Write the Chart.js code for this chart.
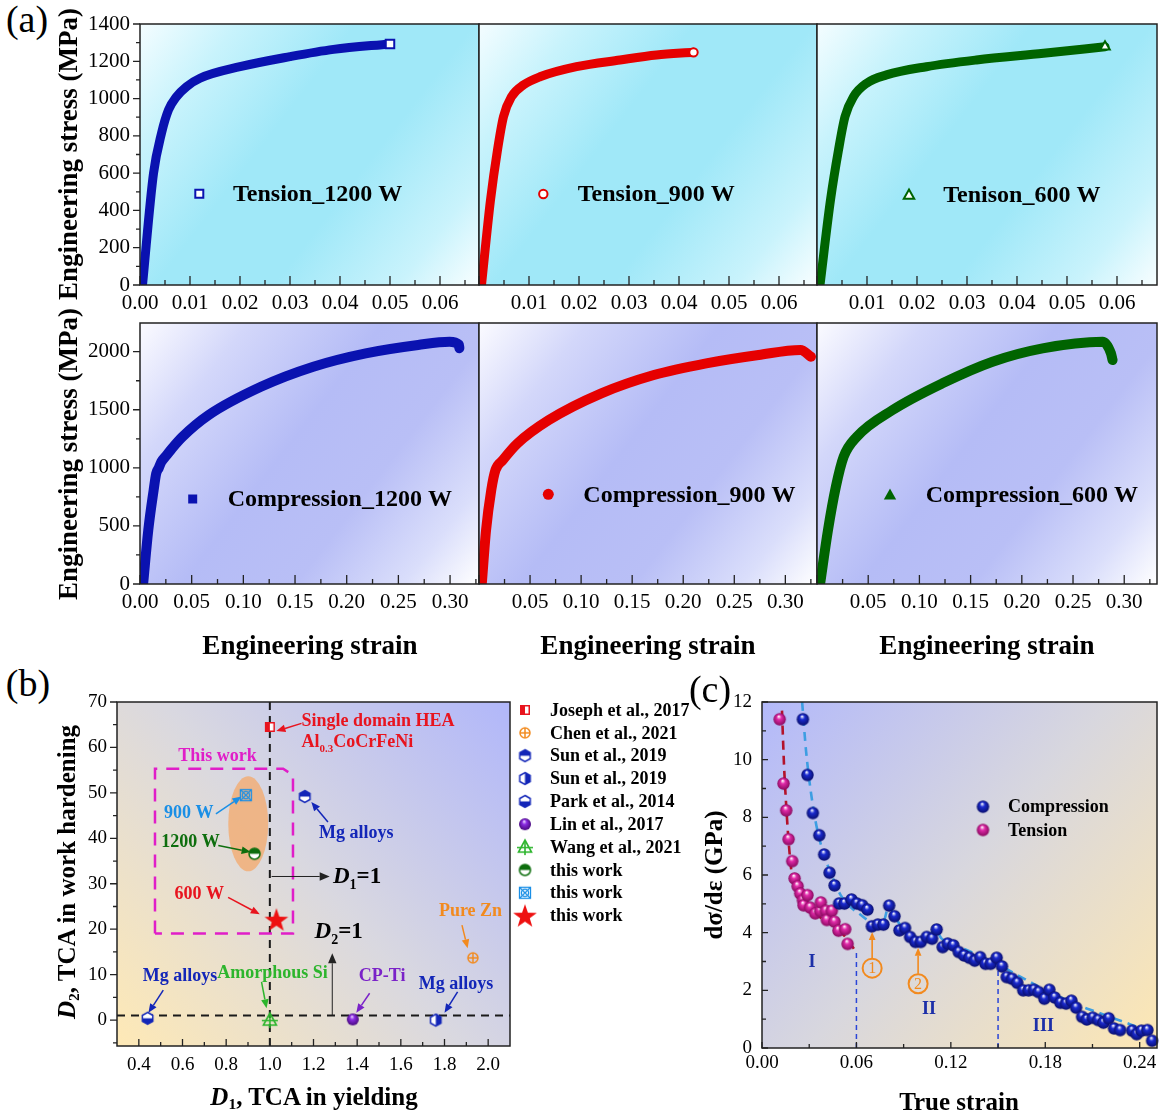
<!DOCTYPE html>
<html>
<head>
<meta charset="utf-8">
<title>Stress–strain and work-hardening behaviour</title>
<script src="https://cdn.jsdelivr.net/npm/chart.js@4.4.1/dist/chart.umd.min.js"></script>
<style>
  html, body { margin: 0; padding: 0; background: #fff; }
  body { position: relative; width: 1164px; height: 1116px; overflow: hidden; }
  canvas { position: absolute; }
  .txt { position: absolute; z-index: 5; font-family: "Liberation Serif", "Times New Roman", serif; color: #000;
         white-space: nowrap; line-height: 1; transform: translate(-50%, -50%); }
  .rot { transform: translate(-50%, -50%) rotate(-90deg); }
  .panel { font-size: 38px; }
  .ax { font-size: 25px; font-weight: bold; }
  .axa { font-size: 27px; font-weight: bold; }
  sub { font-size: 0.62em; vertical-align: -0.3em; line-height: 0; }
</style>
</head>
<body>
<div class="txt panel" style="left:27px;top:19px">(a)</div>
<div class="txt axa rot" style="left:68px;top:154px">Engineering stress (MPa)</div>
<div class="txt axa rot" style="left:68px;top:454px">Engineering stress (MPa)</div>
<div class="txt axa" style="left:310px;top:645px">Engineering strain</div>
<div class="txt axa" style="left:648px;top:645px">Engineering strain</div>
<div class="txt axa" style="left:987px;top:645px">Engineering strain</div>
<div class="txt panel" style="left:28px;top:683px">(b)</div>
<div class="txt ax rot" style="left:66px;top:872px"><i>D</i><sub>2</sub>, TCA in work hardening</div>
<div class="txt ax" style="left:314px;top:1096px"><i>D</i><sub>1</sub>, TCA in yielding</div>
<div class="txt panel" style="left:710px;top:689px">(c)</div>
<div class="txt ax rot" style="left:713px;top:875px">dσ/dε (GPa)</div>
<div class="txt ax" style="left:959px;top:1101px">True strain</div>

<script>
// ---------------- (a) engineering stress–strain curves ----------------
const tension1200Strain = [0.0005, 0.0027, 0.0043, 0.0057, 0.0073, 0.0093, 0.0120, 0.0200, 0.0300, 0.0387, 0.0500];
const tension1200Stress = [0, 599, 814, 939, 1010, 1064, 1109, 1171, 1225, 1264, 1293];
const tension900Strain  = [0.0005, 0.0023, 0.0037, 0.0049, 0.0065, 0.0089, 0.0122, 0.0195, 0.0282, 0.0355, 0.0429];
const tension900Stress  = [0, 456, 724, 903, 1010, 1073, 1117, 1171, 1207, 1234, 1248];
const tension600Strain  = [0.0006, 0.0027, 0.0043, 0.0056, 0.0073, 0.0099, 0.0139, 0.0219, 0.0319, 0.0453, 0.0576];
const tension600Stress  = [0, 456, 724, 903, 1010, 1082, 1127, 1171, 1207, 1243, 1278];
const comp1200Strain = [0.0030, 0.0080, 0.0132, 0.0157, 0.0182, 0.0207, 0.0258, 0.0309, 0.0410, 0.0663, 0.1170,
  0.1677, 0.2184, 0.2691, 0.2995, 0.3086, 0.3090];
const comp1200Stress = [0, 463, 808, 952, 1000, 1052, 1109, 1167, 1267, 1454, 1698, 1871, 1986, 2058, 2086, 2060, 2030];
const comp900Strain  = [0.0027, 0.0069, 0.0120, 0.0161, 0.0233, 0.0377, 0.0684, 0.1198, 0.1712, 0.2225, 0.2738, 0.3149, 0.3251];
const comp900Stress  = [0, 463, 808, 980, 1066, 1210, 1411, 1641, 1799, 1900, 1972, 2015, 1957];
const comp600Strain  = [0.0030, 0.0107, 0.0184, 0.0260, 0.0388, 0.0736, 0.1225, 0.1714, 0.2203, 0.2789, 0.2870, 0.2886];
const comp600Stress  = [0, 463, 836, 1095, 1267, 1497, 1728, 1914, 2029, 2086, 1986, 1928];

const tensionStrainTicks = [0, 0.01, 0.02, 0.03, 0.04, 0.05, 0.06];
const tensionStressTicks = [0, 200, 400, 600, 800, 1000, 1200, 1400];
const compStrainTicks = [0, 0.05, 0.10, 0.15, 0.20, 0.25, 0.30];
const compStressTicks = [0, 500, 1000, 1500, 2000];

// ---------------- (b) triaxial coupling (TCA) map ----------------
const tcaLabels = ['Joseph et al., 2017', 'Chen et al., 2021', 'Sun et al., 2019', 'Sun et al., 2019',
                   'Park et al., 2014', 'Lin et al., 2017', 'Wang et al., 2021', 'this work', 'this work', 'this work'];
const tcaD1 = [1.00, 1.93, 1.16, 1.76, 0.44, 1.38, 1.00, 0.93, 0.89, 1.03];
const tcaD2 = [64.5, 13.7, 49.2, 0.0, 0.4, 0.15, 0.0, 36.6, 49.5, 22.1];
const d1Unity = 1;
const d2Unity = 1;
const d1Ticks = [0.4, 0.6, 0.8, 1.0, 1.2, 1.4, 1.6, 1.8, 2.0];
const d2Ticks = [0, 10, 20, 30, 40, 50, 60, 70];

// ---------------- (c) work-hardening rate ----------------
const compTrueStrain = [0.0260, 0.0289, 0.0323, 0.0364, 0.0395, 0.0429, 0.0461, 0.0490, 0.0524, 0.0569,
  0.0603, 0.0637, 0.0670, 0.0698, 0.0736, 0.0772, 0.0808, 0.0842, 0.0873, 0.0909,
  0.0941, 0.0975, 0.1009, 0.1047, 0.1081, 0.1110, 0.1148, 0.1180, 0.1216, 0.1250,
  0.1284, 0.1318, 0.1352, 0.1386, 0.1420, 0.1453, 0.1491, 0.1525, 0.1555, 0.1589,
  0.1622, 0.1660, 0.1694, 0.1728, 0.1758, 0.1794, 0.1826, 0.1860, 0.1896, 0.1932,
  0.1966, 0.1996, 0.2034, 0.2064, 0.2102, 0.2136, 0.2170, 0.2203, 0.2237, 0.2276,
  0.2352, 0.2381, 0.2411, 0.2449, 0.2479];
const compRate = [11.40, 9.47, 8.15, 7.38, 6.71, 6.08, 5.64, 5.01, 5.01, 5.15,
  5.01, 4.95, 4.80, 4.22, 4.28, 4.28, 4.94, 4.57, 4.08, 4.16,
  3.85, 3.68, 3.68, 3.85, 3.79, 4.11, 3.50, 3.62, 3.56, 3.33,
  3.21, 3.13, 3.03, 3.15, 2.92, 2.92, 3.13, 2.83, 2.46, 2.40,
  2.26, 2.00, 2.00, 2.02, 1.94, 1.71, 2.02, 1.75, 1.57, 1.54,
  1.64, 1.40, 1.08, 0.99, 1.05, 0.97, 0.88, 1.03, 0.68, 0.62,
  0.60, 0.48, 0.60, 0.62, 0.25];
const tensTrueStrain = [0.0112, 0.0137, 0.0154, 0.0169, 0.0192, 0.0207, 0.0226, 0.0243, 0.0260, 0.0264, 0.0289,
  0.0306, 0.0338, 0.0370, 0.0374, 0.0406, 0.0412, 0.0444, 0.0461, 0.0486, 0.0529, 0.0544];
const tensRate = [11.40, 9.17, 8.24, 7.24, 6.48, 5.88, 5.61, 5.36, 5.13, 4.95, 5.30,
  4.87, 4.67, 4.75, 5.05, 4.76, 4.44, 4.76, 4.38, 4.07, 4.12, 3.61];
const compFitStrain = [0.0255, 0.0280, 0.0310, 0.0350, 0.0400, 0.0450, 0.0500, 0.0560, 0.0620, 0.0680, 0.0720,
  0.0770, 0.0805, 0.0850, 0.0900, 0.0950, 0.1000, 0.1050, 0.1105, 0.1140, 0.1200, 0.1300, 0.1400, 0.1500,
  0.1600, 0.1700, 0.1800, 0.1900, 0.2000, 0.2100, 0.2200, 0.2300, 0.2400, 0.2460];
const compFitRate = [12.0, 10.3, 8.9, 7.6, 6.6, 5.9, 5.3, 4.9, 4.65, 4.4, 4.28,
  4.35, 4.9, 4.5, 4.1, 3.8, 3.65, 3.8, 4.1, 3.8, 3.65, 3.4, 3.15, 2.9,
  2.6, 2.3, 2.0, 1.75, 1.5, 1.3, 1.1, 0.9, 0.7, 0.55];
const tensFitStrain = [0.0127, 0.0140, 0.0155, 0.0170, 0.0190, 0.0210, 0.0240, 0.0280, 0.0330, 0.0380, 0.0430, 0.0480, 0.0530, 0.0596];
const tensFitRate   = [11.7, 9.8, 8.3, 7.1, 6.0, 5.55, 5.2, 4.95, 4.68, 4.5, 4.33, 4.12, 3.85, 3.35];
const stageBoundStrain = [0.06, 0.15];
const stageBoundTop = [3.33, 2.91];
const stageNames = ['I', 'II', 'III'];
const trueStrainTicks = [0, 0.06, 0.12, 0.18, 0.24];
const hardeningTicks = [0, 2, 4, 6, 8, 10, 12];

// ---------------- shared helpers ----------------
const SERIF = '"Liberation Serif", "Times New Roman", serif';
Chart.defaults.font.family = SERIF;
Chart.defaults.color = '#000';

const pts = (xs, ys) => xs.map((x, i) => ({x, y: ys[i]}));

// linear axis whose box size is fixed, so the plot area lands exactly where wanted
function axis(o) {
  return {
    type: 'linear', min: o.min, max: o.max,
    afterFit: s => { if (s.isHorizontal()) s.height = o.boxSize; else s.width = o.boxSize; },
    afterBuildTicks: s => { s.ticks = o.ticks.map(v => ({value: v})); },
    grid: {display: false, drawTicks: false},
    border: {display: false},
    ticks: {
      display: o.labels !== false,
      padding: o.pad, maxRotation: 0, minRotation: 0, autoSkip: false,
      font: {family: SERIF, size: o.size}, color: '#000',
      callback: v => (o.hideZero && Math.abs(v) < 1e-9) ? '' : Number(v).toFixed(o.dec)
    }
  };
}

function drawTickMarks(chart, t, id) {
  const s = chart.scales[id], a = chart.chartArea, ctx = chart.ctx;
  const majors = s.ticks.map(k => k.value);
  const step = majors[1] - majors[0];
  const minors = [];
  for (let k = -1; k < majors.length; k++) {
    const v = majors[0] + (k + 0.5) * step;
    if (v > s.min + step * 0.02 && v < s.max - step * 0.02) minors.push(v);
  }
  ctx.save();
  ctx.strokeStyle = '#222'; ctx.lineWidth = 1.3; ctx.beginPath();
  const mark = (v, len) => {
    const p = s.getPixelForValue(v);
    if (id === 'x') {
      const y0 = a.bottom, y1 = t.dir === 'in' ? y0 - len : y0 + len;
      ctx.moveTo(p, y0); ctx.lineTo(p, y1);
    } else {
      const x0 = a.left, x1 = t.dir === 'in' ? x0 + len : x0 - len;
      ctx.moveTo(x0, p); ctx.lineTo(x1, p);
    }
  };
  majors.forEach(v => mark(v, t.major));
  minors.forEach(v => mark(v, t.minor));
  ctx.stroke(); ctx.restore();
}

function decor(cfg) {
  return {
    id: 'decor',
    beforeDraw(chart) {
      const {ctx, chartArea: a} = chart;
      const g = cfg.bgDir === 'bl'
        ? ctx.createLinearGradient(a.left, a.bottom, a.right, a.top)
        : ctx.createLinearGradient(a.left, a.top, a.right, a.bottom);
      cfg.bgStops.forEach(s => g.addColorStop(s[0], s[1]));
      ctx.save(); ctx.fillStyle = g; ctx.fillRect(a.left, a.top, a.width, a.height); ctx.restore();
    },
    beforeDatasetsDraw(chart) { if (cfg.under) cfg.under(chart, cfg); },
    afterDraw(chart) {
      const {ctx, chartArea: a} = chart;
      drawTickMarks(chart, cfg.tickX, 'x');
      if (cfg.tickY) drawTickMarks(chart, cfg.tickY, 'y');
      ctx.save(); ctx.strokeStyle = '#222'; ctx.lineWidth = 1.5;
      ctx.strokeRect(a.left, a.top, a.width, a.height); ctx.restore();
      if (cfg.over) cfg.over(chart, cfg);
    }
  };
}

function makePanel(area, margin, datasets, xAxis, yAxis, cfg) {
  const box = {x: area.l - margin.l, y: area.t - margin.t,
               w: area.r - area.l + margin.l + margin.r, h: area.b - area.t + margin.t + margin.b};
  const cv = document.createElement('canvas');
  cv.width = box.w; cv.height = box.h;
  cv.style.left = box.x + 'px'; cv.style.top = box.y + 'px';
  cv.style.width = box.w + 'px'; cv.style.height = box.h + 'px';
  document.body.appendChild(cv);
  cfg.box = box;
  xAxis.boxSize = margin.b; yAxis.boxSize = margin.l;
  return new Chart(cv, {
    type: 'scatter',
    data: {datasets},
    options: {
      responsive: false, animation: false, events: [],
      layout: {padding: {left: 0, right: margin.r, top: margin.t, bottom: 0}},
      plugins: {legend: {display: false}, tooltip: {enabled: false}},
      scales: {x: axis(xAxis), y: axis(yAxis)}
    },
    plugins: [decor(cfg)]
  });
}

// small canvases used as point symbols
function symbol(size, draw) {
  const c = document.createElement('canvas');
  c.width = c.height = size;
  draw(c.getContext('2d'), size / 2);
  return c;
}
function ball(r, light, base, dark) {
  return symbol(Math.ceil(r * 2 + 2), (g, c) => {
    const gr = g.createRadialGradient(c - r * 0.15, c - r * 0.5, r * 0.05, c, c, r);
    gr.addColorStop(0, light); gr.addColorStop(0.35, base); gr.addColorStop(1, dark);
    g.fillStyle = gr; g.beginPath(); g.arc(c, c, r, 0, Math.PI * 2); g.fill();
  });
}
function hexPath(g, c, r) {
  g.beginPath();
  for (let k = 0; k < 6; k++) {
    const an = -Math.PI / 2 + k * Math.PI / 3;
    const px = c + r * Math.cos(an), py = c + r * Math.sin(an);
    k ? g.lineTo(px, py) : g.moveTo(px, py);
  }
  g.closePath();
}
function halfHex(part, color) {
  return symbol(15, (g, c) => {
    const r = 6;
    hexPath(g, c, r); g.fillStyle = '#fff'; g.fill();
    g.save(); hexPath(g, c, r); g.clip();
    g.fillStyle = color;
    if (part === 'top') g.fillRect(0, 0, 15, c);
    if (part === 'bottom') g.fillRect(0, c, 15, c);
    if (part === 'right') g.fillRect(c, 0, c, 15);
    g.restore();
    hexPath(g, c, r); g.strokeStyle = color; g.lineWidth = 1.5; g.stroke();
  });
}

const C_RED = '#e8141e', C_ORANGE = '#f28a1e', C_BLUE = '#1326b8', C_SKY = '#1a8fe6',
      C_GREEN = '#0e6e0e', C_LIME = '#2db52d', C_PURPLE = '#7a22c8', C_MAGENTA = '#e01ec8';

const tcaSymbols = [
  symbol(14, (g) => {               // half-filled square
    g.fillStyle = '#fff'; g.fillRect(2, 2, 10, 10);
    g.fillStyle = C_RED; g.fillRect(2, 2, 5, 10);
    g.strokeStyle = C_RED; g.lineWidth = 1.5; g.strokeRect(2.75, 2.75, 8.5, 8.5);
  }),
  symbol(14, (g, c) => {            // circled plus
    g.strokeStyle = C_ORANGE; g.lineWidth = 1.5;
    g.beginPath(); g.arc(c, c, 5, 0, Math.PI * 2); g.stroke();
    g.beginPath(); g.moveTo(c - 5, c); g.lineTo(c + 5, c); g.moveTo(c, c - 5); g.lineTo(c, c + 5); g.stroke();
  }),
  halfHex('top', C_BLUE),
  halfHex('right', C_BLUE),
  halfHex('bottom', C_BLUE),
  ball(6, '#e8d0ff', '#8a2be2', '#4a0a80'),
  symbol(20, (g) => {               // triangle with cross
    g.strokeStyle = C_LIME; g.lineWidth = 1.6;
    g.beginPath(); g.moveTo(10, 3); g.lineTo(16.5, 15); g.lineTo(3.5, 15); g.closePath(); g.stroke();
    g.beginPath(); g.moveTo(10, 3); g.lineTo(10, 18); g.moveTo(2, 10.5); g.lineTo(18, 10.5); g.stroke();
  }),
  symbol(15, (g, c) => {            // half-filled circle
    g.fillStyle = '#fff'; g.beginPath(); g.arc(c, c, 5.5, 0, Math.PI * 2); g.fill();
    g.fillStyle = C_GREEN; g.beginPath(); g.arc(c, c, 5.5, Math.PI, Math.PI * 2); g.closePath(); g.fill();
    g.strokeStyle = C_GREEN; g.lineWidth = 1.5; g.beginPath(); g.arc(c, c, 5.5, 0, Math.PI * 2); g.stroke();
  }),
  symbol(16, (g, c) => {            // crossed box with circle
    g.strokeStyle = C_SKY; g.lineWidth = 1.3;
    g.strokeRect(2.5, 2.5, 11, 11);
    g.beginPath(); g.moveTo(2.5, 2.5); g.lineTo(13.5, 13.5); g.moveTo(13.5, 2.5); g.lineTo(2.5, 13.5); g.stroke();
    g.beginPath(); g.arc(c, c, 3.6, 0, Math.PI * 2); g.stroke();
  }),
  symbol(26, (g, c) => {            // star
    g.fillStyle = '#ee1111'; g.beginPath();
    for (let k = 0; k < 10; k++) {
      const r = k % 2 ? 5 : 12.5, an = -Math.PI / 2 + k * Math.PI / 5;
      const px = c + r * Math.cos(an), py = c + 1 + r * Math.sin(an);
      k ? g.lineTo(px, py) : g.moveTo(px, py);
    }
    g.closePath(); g.fill();
  })
];
const blueBall = ball(6.2, '#ffffff', '#1a2ad0', '#0a0f70');
const pinkBall = ball(6.2, '#ffffff', '#e02aa8', '#8a0a60');

function arrow(ctx, x0, y0, x1, y1, color, lw = 1.5, head = 9) {
  const an = Math.atan2(y1 - y0, x1 - x0);
  const bx = x1 - head * Math.cos(an), by = y1 - head * Math.sin(an);
  const w = head * 0.42;
  ctx.save();
  ctx.strokeStyle = color; ctx.fillStyle = color; ctx.lineWidth = lw;
  ctx.beginPath(); ctx.moveTo(x0, y0); ctx.lineTo(bx, by); ctx.stroke();
  ctx.beginPath(); ctx.moveTo(x1, y1);
  ctx.lineTo(bx + w * Math.sin(an), by - w * Math.cos(an));
  ctx.lineTo(bx - w * Math.sin(an), by + w * Math.cos(an));
  ctx.closePath(); ctx.fill();
  ctx.restore();
}

// text made of plain / italic / subscript pieces, vertically centred on y
function richText(ctx, segs, x, y, size, color, align) {
  const fontOf = s => `${s.it ? 'italic ' : ''}bold ${s.sub ? Math.round(size * 0.62) : size}px ${SERIF}`;
  let total = 0;
  segs.forEach(s => { ctx.font = fontOf(s); total += ctx.measureText(s.t).width; });
  let cx = align === 'center' ? x - total / 2 : x;
  ctx.save(); ctx.fillStyle = color; ctx.textBaseline = 'middle'; ctx.textAlign = 'left';
  segs.forEach(s => {
    ctx.font = fontOf(s);
    ctx.fillText(s.t, cx, y + (s.sub ? size * 0.38 : 0));
    cx += ctx.measureText(s.t).width;
  });
  ctx.restore();
}

// ---------------- (a) six stress–strain panels ----------------
const aCols = [[140, 479], [479, 817], [817, 1157]];
const aRows = [[24, 285], [323, 584]];
const cyanStops = [[0, '#f4fdff'], [0.18, '#c8f3fc'], [0.4, '#a0e8f8'], [0.62, '#a0e8f8'], [0.85, '#c9f3fc'], [1, '#f8feff']];
const lilacStops = [[0, '#fbfbff'], [0.2, '#d3d7fa'], [0.45, '#b5bcf6'], [0.66, '#b9bff6'], [0.86, '#dadefb'], [1, '#ffffff']];

const aPanels = [
  {row: 0, col: 0, xs: tension1200Strain, ys: tension1200Stress, color: '#0a12b0', sym: 'rect', open: true,
   text: 'Tension_1200 W', mx: 199.3, my: 193.7, tx: 233},
  {row: 0, col: 1, xs: tension900Strain, ys: tension900Stress, color: '#e60000', sym: 'circle', open: true,
   text: 'Tension_900 W', mx: 543.3, my: 194, tx: 577.7},
  {row: 0, col: 2, xs: tension600Strain, ys: tension600Stress, color: '#006400', sym: 'triangle', open: true,
   text: 'Tenison_600 W', mx: 909, my: 195, tx: 943.3},
  {row: 1, col: 0, xs: comp1200Strain, ys: comp1200Stress, color: '#0a12b0', sym: 'rect', open: false,
   text: 'Compression_1200 W', mx: 192.7, my: 499, tx: 227.7},
  {row: 1, col: 1, xs: comp900Strain, ys: comp900Stress, color: '#e60000', sym: 'circle', open: false,
   text: 'Compression_900 W', mx: 548.3, my: 494.3, tx: 583.3},
  {row: 1, col: 2, xs: comp600Strain, ys: comp600Stress, color: '#006400', sym: 'triangle', open: false,
   text: 'Compression_600 W', mx: 890, my: 495, tx: 925.7}
];
const strainMax = [[0.0678, 0.0676, 0.068], [0.328, 0.331, 0.332]];

function legendSymbol(ctx, p, x, y) {
  ctx.save();
  ctx.strokeStyle = p.color; ctx.fillStyle = p.open ? '#fff' : p.color; ctx.lineWidth = 2;
  ctx.beginPath();
  if (p.sym === 'rect') { const h = p.open ? 4 : 4.5; ctx.rect(x - h, y - h, 2 * h, 2 * h); }
  else if (p.sym === 'circle') ctx.arc(x, y, p.open ? 4.2 : 5.5, 0, Math.PI * 2);
  else { const r = p.open ? 5.5 : 6.5; ctx.moveTo(x, y - r); ctx.lineTo(x + r * 0.95, y + r * 0.7); ctx.lineTo(x - r * 0.95, y + r * 0.7); ctx.closePath(); }
  ctx.fill(); if (p.open) ctx.stroke();
  ctx.restore();
}

aPanels.forEach(p => {
  const [t, b] = aRows[p.row], [l, r] = aCols[p.col];
  const top = p.row === 0;
  const datasets = [
    {data: pts(p.xs, p.ys), showLine: true, borderColor: p.color, borderWidth: top ? 9 : 10, pointRadius: 0,
     cubicInterpolationMode: 'monotone', borderCapStyle: 'round', borderJoinStyle: 'round', clip: 0, order: 2}
  ];
  if (top) {
    const n = p.xs.length - 1;
    datasets.push({data: [{x: p.xs[n], y: p.ys[n]}], pointStyle: p.sym,
      pointRadius: p.sym === 'rect' ? 6 : (p.sym === 'circle' ? 4.2 : 5.5),
      pointBackgroundColor: '#fff', pointBorderColor: p.color, pointBorderWidth: 2, clip: false, order: 0});
  }
  const cfg = {
    bgDir: 'tl', bgStops: top ? cyanStops : lilacStops,
    tickX: {dir: 'in', major: 9, minor: 5},
    tickY: p.col === 0 ? {dir: 'out', major: 7, minor: 4} : null,
    over(chart, c) {
      const ctx = chart.ctx, ox = c.box.x, oy = c.box.y;
      legendSymbol(ctx, p, p.mx - ox, p.my - oy);
      ctx.save(); ctx.fillStyle = '#000'; ctx.font = `bold 24px ${SERIF}`;
      ctx.textBaseline = 'middle'; ctx.textAlign = 'left';
      ctx.fillText(p.text, p.tx - ox, p.my - oy + 1); ctx.restore();
    }
  };
  makePanel({l, r, t, b}, {l: p.col === 0 ? 80 : 30, r: 30, t: 30, b: 40}, datasets,
    {min: 0, max: strainMax[p.row][p.col], ticks: top ? tensionStrainTicks : compStrainTicks,
     dec: 2, pad: 6, size: 21, hideZero: p.col !== 0},
    {min: 0, max: top ? 1400 : 2247, ticks: top ? tensionStressTicks : compStressTicks,
     dec: 0, pad: 10, size: 21, labels: p.col === 0},
    cfg);
});

// ---------------- (b) TCA map ----------------
const thisWorkRegion = {d1: [0.474, 1.106], d2: [19.05, 55.3], cutD1: 1.061, cutD2: 53.9};
const ellipseRegion = {d1: 0.901, d2: 43.2, rd1: 0.0914, rd2: 10.45};
const tcaNotes = [
  {segs: [{t: 'Single domain HEA'}], x: 1.145, y: 65.8, color: C_RED, align: 'left'},
  {segs: [{t: 'Al'}, {t: '0.3', sub: true}, {t: 'CoCrFeNi'}], x: 1.145, y: 61.2, color: C_RED, align: 'left'},
  {segs: [{t: 'This work'}], x: 0.76, y: 58.1, color: C_MAGENTA, align: 'center'},
  {segs: [{t: '900 W'}], x: 0.629, y: 45.6, color: C_SKY, align: 'center'},
  {segs: [{t: '1200 W'}], x: 0.637, y: 39.2, color: C_GREEN, align: 'center'},
  {segs: [{t: '600 W'}], x: 0.677, y: 27.7, color: C_RED, align: 'center'},
  {segs: [{t: 'Mg alloys'}], x: 1.396, y: 41.0, color: C_BLUE, align: 'center'},
  {segs: [{t: 'Pure Zn'}], x: 1.919, y: 24.0, color: C_ORANGE, align: 'center'},
  {segs: [{t: 'Mg alloys'}], x: 0.589, y: 9.7, color: C_BLUE, align: 'center'},
  {segs: [{t: 'Amorphous Si'}], x: 1.012, y: 10.3, color: C_LIME, align: 'center'},
  {segs: [{t: 'CP-Ti'}], x: 1.514, y: 9.7, color: C_PURPLE, align: 'center'},
  {segs: [{t: 'Mg alloys'}], x: 1.853, y: 7.9, color: C_BLUE, align: 'center'},
  {segs: [{t: 'D', it: true}, {t: '1', sub: true}, {t: '=1'}], x: 1.289, y: 31.5, color: '#000', align: 'left', size: 23},
  {segs: [{t: 'D', it: true}, {t: '2', sub: true}, {t: '=1'}], x: 1.205, y: 19.4, color: '#000', align: 'left', size: 23}
];
const tcaArrows = [
  {from: [1.145, 65.3], to: [1.03, 63.6], color: C_RED},
  {from: [0.753, 45.4], to: [0.87, 49.2], color: C_SKY},
  {from: [0.764, 38.4], to: [0.912, 37.0], color: C_GREEN},
  {from: [0.809, 27.0], to: [0.954, 23.3], color: C_RED},
  {from: [1.266, 43.6], to: [1.19, 48.0], color: C_BLUE},
  {from: [1.008, 31.6], to: [1.274, 31.6], color: '#222', lw: 1},
  {from: [1.286, d2Unity], to: [1.286, 14.7], color: '#222', lw: 1},
  {from: [1.88, 20.9], to: [1.906, 15.8], color: C_ORANGE},
  {from: [0.512, 6.6], to: [0.444, 1.6], color: C_BLUE},
  {from: [0.962, 8.4], to: [0.985, 2.6], color: C_LIME},
  {from: [1.457, 5.9], to: [1.396, 1.6], color: C_PURPLE},
  {from: [1.86, 6.2], to: [1.8, 1.6], color: C_BLUE}
];
const B_X = [0.3, 2.1], B_Y = [-5.7, 70];
const twr = thisWorkRegion;

makePanel({l: 117, r: 510, t: 702, b: 1046}, {l: 60, r: 190, t: 30, b: 44}, [
  {data: pts(tcaD1, tcaD2), pointStyle: tcaSymbols, pointRadius: 7, clip: false, order: 0},
  {data: [{x: d1Unity, y: B_Y[0]}, {x: d1Unity, y: B_Y[1]}], showLine: true, pointRadius: 0,
   borderColor: '#1a1a1a', borderWidth: 2, borderDash: [8, 6], order: 3},
  {data: [{x: B_X[0], y: d2Unity}, {x: B_X[1], y: d2Unity}], showLine: true, pointRadius: 0,
   borderColor: '#1a1a1a', borderWidth: 2, borderDash: [8, 6], order: 3},
  {data: [{x: twr.d1[0], y: twr.d2[0]}, {x: twr.d1[0], y: twr.d2[1]}, {x: twr.cutD1, y: twr.d2[1]},
          {x: twr.d1[1], y: twr.cutD2}, {x: twr.d1[1], y: twr.d2[0]}, {x: twr.d1[0], y: twr.d2[0]}],
   showLine: true, pointRadius: 0, borderColor: C_MAGENTA, borderWidth: 2.5, borderDash: [13, 9], order: 2}
],
  {min: B_X[0], max: B_X[1], ticks: d1Ticks, dec: 1, pad: 8, size: 19},
  {min: B_Y[0], max: B_Y[1], ticks: d2Ticks, dec: 0, pad: 10, size: 19},
  {
    bgDir: 'bl', bgStops: [[0, '#fee9b6'], [0.5, '#d9d8e0'], [1, '#b1b7fa']],
    tickX: {dir: 'in', major: 7, minor: 4},
    tickY: {dir: 'out', major: 7, minor: 4},
    under(chart) {
      const {ctx, scales: {x, y}} = chart, e = ellipseRegion;
      const cx = x.getPixelForValue(e.d1), cy = y.getPixelForValue(e.d2);
      const rx = Math.abs(x.getPixelForValue(e.d1 + e.rd1) - cx), ry = Math.abs(y.getPixelForValue(e.d2 + e.rd2) - cy);
      ctx.save(); ctx.fillStyle = 'rgba(244,170,110,0.78)';
      ctx.beginPath(); ctx.ellipse(cx, cy, rx, ry, 0, 0, Math.PI * 2); ctx.fill(); ctx.restore();
    },
    over(chart, c) {
      const {ctx, scales: {x, y}} = chart;
      tcaArrows.forEach(a => arrow(ctx, x.getPixelForValue(a.from[0]), y.getPixelForValue(a.from[1]),
        x.getPixelForValue(a.to[0]), y.getPixelForValue(a.to[1]), a.color, a.lw || 1.5, a.lw ? 10 : 9));
      tcaNotes.forEach(n => richText(ctx, n.segs, x.getPixelForValue(n.x), y.getPixelForValue(n.y),
        n.size || 18, n.color, n.align));
      // legend
      const ox = c.box.x, oy = c.box.y;
      tcaLabels.forEach((lab, i) => {
        const ly = 710 + i * 22.85 - oy, lx = 525 - ox;
        const s = tcaSymbols[i];
        ctx.drawImage(s, lx - s.width / 2, ly - s.height / 2);
        ctx.save(); ctx.fillStyle = '#000'; ctx.font = `bold 18px ${SERIF}`;
        ctx.textBaseline = 'middle'; ctx.textAlign = 'left';
        ctx.fillText(lab, 550 - ox, ly + 1); ctx.restore();
      });
    }
  });

// ---------------- (c) work-hardening rate ----------------
const stageLabelAt = [[0.0317, 2.98], [0.1061, 1.33], [0.1788, 0.75]];
const circledMarks = [{n: '1', x: 0.070, y: 2.77, tip: 4.02}, {n: '2', x: 0.0992, y: 2.23, tip: 3.48}];

const cDatasets = [
  {data: pts(compTrueStrain, compRate), pointStyle: blueBall, pointRadius: 6, clip: false, order: 0},
  {data: pts(tensTrueStrain, tensRate), pointStyle: pinkBall, pointRadius: 6, clip: false, order: 0},
  {data: pts(compFitStrain, compFitRate), showLine: true, pointRadius: 0, borderColor: '#3d9ee2', borderWidth: 2.6,
   borderDash: [9, 6], cubicInterpolationMode: 'monotone', clip: 0, order: 2},
  {data: pts(tensFitStrain, tensFitRate), showLine: true, pointRadius: 0, borderColor: '#b3122a', borderWidth: 2.6,
   borderDash: [9, 6], cubicInterpolationMode: 'monotone', clip: 0, order: 2}
];
stageBoundStrain.forEach((s, i) => cDatasets.push({
  data: [{x: s, y: 0}, {x: s, y: stageBoundTop[i]}], showLine: true, pointRadius: 0,
  borderColor: '#2a45d8', borderWidth: 1.5, borderDash: [5, 4], order: 3}));

makePanel({l: 762, r: 1157, t: 702, b: 1048}, {l: 60, r: 30, t: 30, b: 44}, cDatasets,
  {min: 0, max: 0.251, ticks: trueStrainTicks, dec: 2, pad: 4, size: 19},
  {min: 0, max: 12, ticks: hardeningTicks, dec: 0, pad: 10, size: 19},
  {
    bgDir: 'tl', bgStops: [[0, '#b3b9fa'], [0.5, '#d8d7de'], [1, '#fde7b3']],
    tickX: {dir: 'in', major: 6, minor: 4},
    tickY: {dir: 'in', major: 6, minor: 4},
    over(chart, c) {
      const {ctx, scales: {x, y}} = chart;
      stageNames.forEach((nm, i) => {
        ctx.save(); ctx.fillStyle = '#1c2fa8'; ctx.font = `bold 18px ${SERIF}`;
        ctx.textAlign = 'center'; ctx.textBaseline = 'middle';
        ctx.fillText(nm, x.getPixelForValue(stageLabelAt[i][0]), y.getPixelForValue(stageLabelAt[i][1]));
        ctx.restore();
      });
      circledMarks.forEach(m => {
        const px = x.getPixelForValue(m.x), py = y.getPixelForValue(m.y);
        ctx.save(); ctx.strokeStyle = C_ORANGE; ctx.fillStyle = C_ORANGE; ctx.lineWidth = 2;
        ctx.beginPath(); ctx.arc(px, py, 9.5, 0, Math.PI * 2); ctx.stroke();
        ctx.font = `16px ${SERIF}`; ctx.textAlign = 'center'; ctx.textBaseline = 'middle';
        ctx.fillText(m.n, px, py + 1); ctx.restore();
        arrow(ctx, px, py - 10, px, y.getPixelForValue(m.tip), C_ORANGE, 1.6, 8);
      });
      const ox = c.box.x, oy = c.box.y;
      [[blueBall, 'Compression', 806.7], [pinkBall, 'Tension', 830]].forEach(([s, lab, ly]) => {
        ctx.drawImage(s, 983 - ox - s.width / 2, ly - oy - s.height / 2);
        ctx.save(); ctx.fillStyle = '#000'; ctx.font = `bold 18px ${SERIF}`;
        ctx.textBaseline = 'middle'; ctx.textAlign = 'left';
        ctx.fillText(lab, 1008 - ox, ly - oy + 1); ctx.restore();
      });
    }
  });
</script>
</body>
</html>
